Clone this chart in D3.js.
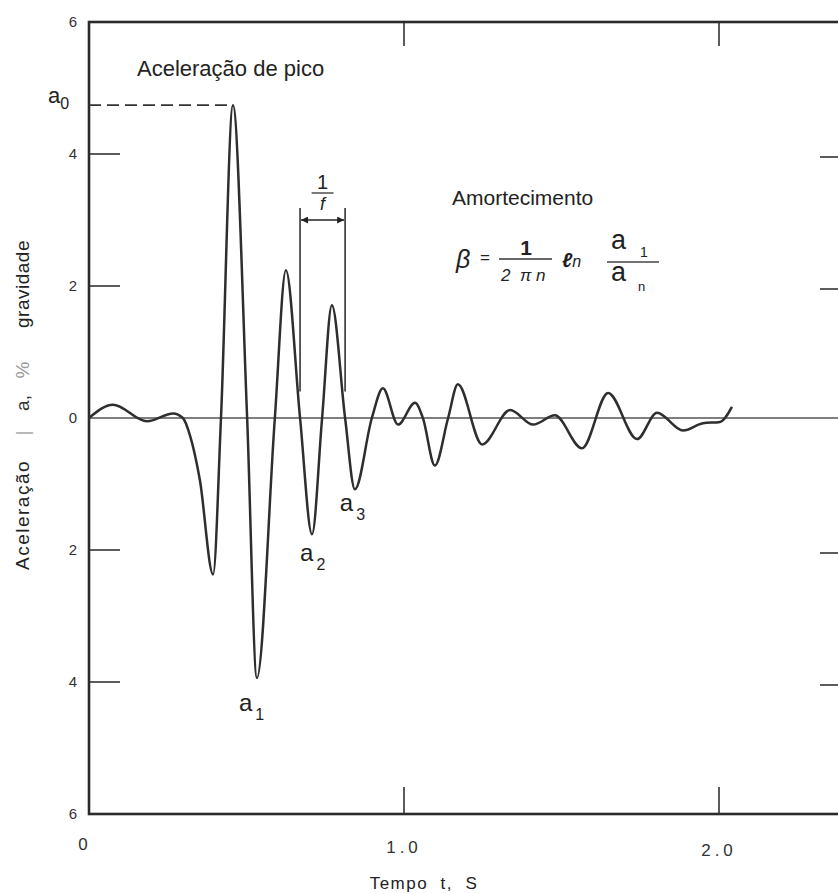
<!DOCTYPE html>
<html lang="pt">
<head>
    <meta charset="UTF-8">
    <title>Aceleração de pico</title>
    <style>
        body { margin: 0; background: #fff; }
        .frame { fill: none; stroke: #2b2b2b; stroke-width: 2.6; }
        .tick { stroke: #333; stroke-width: 1.6; }
        .zero { stroke: #555; stroke-width: 1.6; }
        .trace { fill: none; stroke: #2e2e2e; stroke-width: 2.5; stroke-linejoin: round; }
        text { font-family: "Liberation Sans", Arial, sans-serif; fill: #222; }
        .ticklabel { font-size: 15px; fill: #333; }
    </style>
</head>
<body>
    <div id="chart"></div>

    <script src="https://d3js.org/d3.v7.min.js"></script>
    <script>
        const width = 838;
        const height = 894;

        // registro de aceleração (tempo em s, aceleração em % g)
        const timeS = [0.000, 0.076, 0.184, 0.267, 0.298, 0.321, 0.352, 0.394, 0.419, 0.457,
                       0.502, 0.533, 0.590, 0.625, 0.670, 0.708, 0.740, 0.771, 0.813, 0.844,
                       0.898, 0.933, 0.981, 1.035, 1.060, 1.098, 1.140, 1.171, 1.248, 1.337,
                       1.410, 1.479, 1.565, 1.648, 1.740, 1.803, 1.886, 1.949, 2.003, 2.041];
        const accelG = [0, 0.20, -0.05, 0.07, 0, -0.27, -0.94, -2.37, 0, 4.74,
                        0, -3.94, 0, 2.24, 0, -1.76, 0, 1.71, 0, -1.08,
                        0, 0.45, -0.10, 0.23, 0, -0.72, 0, 0.51, -0.40, 0.12,
                        -0.10, 0.04, -0.46, 0.38, -0.32, 0.08, -0.19, -0.08, -0.06, 0.17];

        const yTicks = [-6, -4, -2, 0, 2, 4, 6];
        const xTicks = [0, 1, 2];
        const xTickLabels = ["0", "1.0", "2.0"];

        // pontos anotados
        const peakIndex = 9;          // a0
        const troughIdx = [11, 15, 19]; // a1, a2, a3
        const periodStart = 0.670, periodEnd = 0.813; // 1/f

        const svg = d3.select("#chart")
            .append("svg")
            .attr("width", width)
            .attr("height", height);

        const x = d3.scaleLinear().domain([0, 2]).range([89, 719]);
        const y = d3.scaleLinear().domain([-6, 6]).range([814, 22]);
        const plotL = x(0), plotR = 852, plotT = y(6), plotB = y(-6);

        svg.append("defs").append("marker")
            .attr("id", "head")
            .attr("viewBox", "0 0 10 10")
            .attr("refX", 10).attr("refY", 5)
            .attr("markerWidth", 10).attr("markerHeight", 7)
            .attr("markerUnits", "userSpaceOnUse")
            .attr("orient", "auto-start-reverse")
            .append("path")
            .attr("d", "M0,0 L10,5 L0,10 z")
            .attr("fill", "#222");

        // linha zero
        svg.append("line").attr("class", "zero")
            .attr("x1", plotL).attr("x2", plotR)
            .attr("y1", y(0)).attr("y2", y(0));

        // ticks
        yTicks.filter(v => v !== 0 && Math.abs(v) < 6).forEach(v => {
            svg.append("line").attr("class", "tick")
                .attr("x1", plotL).attr("x2", plotL + 31)
                .attr("y1", y(v)).attr("y2", y(v));
            svg.append("line").attr("class", "tick")
                .attr("x1", plotR - 32).attr("x2", plotR)
                .attr("y1", y(v) + 3).attr("y2", y(v) + 3);
        });
        xTicks.filter(t => t > 0).forEach(t => {
            svg.append("line").attr("class", "tick")
                .attr("x1", x(t)).attr("x2", x(t))
                .attr("y1", plotT).attr("y2", plotT + 24);
            svg.append("line").attr("class", "tick")
                .attr("x1", x(t)).attr("x2", x(t))
                .attr("y1", plotB).attr("y2", plotB - 27);
        });

        svg.append("rect").attr("class", "frame")
            .attr("x", plotL).attr("y", plotT)
            .attr("width", plotR - plotL).attr("height", plotB - plotT);

        // rótulos dos eixos
        svg.selectAll(".ylab")
            .data(yTicks)
            .enter()
            .append("text")
            .attr("class", "ticklabel")
            .attr("x", 73)
            .attr("y", d => y(d) + 5)
            .attr("text-anchor", "middle")
            .text(d => Math.abs(d));

        svg.selectAll(".xlab")
            .data(xTicks)
            .enter()
            .append("text")
            .attr("class", "ticklabel")
            .attr("x", (d, i) => x(d) + (i === 0 ? -6 : 0))
            .attr("y", (d, i) => 850 + i * 3)
            .attr("text-anchor", "middle")
            .style("font-size", "17px")
            .style("letter-spacing", (d, i) => i === 0 ? "0px" : "4px")
            .text((d, i) => xTickLabels[i]);

        svg.append("text")
            .attr("x", 424).attr("y", 889)
            .attr("text-anchor", "middle")
            .style("font-size", "17px")
            .style("letter-spacing", "1.5px")
            .attr("xml:space", "preserve")
            .text("Tempo  t,  S");

        const yLabel = [
            { t: "Aceleração", c: 515, color: "#222", ls: 1.5 },
            { t: "|", c: 433, color: "#aaa", ls: 0 },
            { t: "a,", c: 403, color: "#333", ls: 0 },
            { t: "%", c: 370, color: "#999", ls: 0 },
            { t: "gravidade", c: 284, color: "#222", ls: 0.5 }
        ];
        yLabel.forEach(d => {
            svg.append("text")
                .attr("transform", `translate(29,${d.c}) rotate(-90)`)
                .attr("text-anchor", "middle")
                .style("font-size", "19px")
                .style("letter-spacing", d.ls + "px")
                .style("fill", d.color)
                .text(d.t);
        });

        // traço
        const line = d3.line()
            .x(d => x(d[0]))
            .y(d => y(d[1]))
            .curve(d3.curveMonotoneX);

        svg.append("path")
            .datum(d3.zip(timeS, accelG))
            .attr("class", "trace")
            .attr("d", line);

        // aceleração de pico
        svg.append("line")
            .attr("x1", plotL).attr("x2", x(timeS[peakIndex]) - 4)
            .attr("y1", y(accelG[peakIndex])).attr("y2", y(accelG[peakIndex]))
            .attr("stroke", "#333").attr("stroke-width", 1.6)
            .attr("stroke-dasharray", "12,6");

        const a0 = svg.append("text").attr("x", 48).attr("y", y(accelG[peakIndex]) - 2)
            .style("font-size", "22px");
        a0.append("tspan").text("a");
        a0.append("tspan").attr("dy", 6).style("font-size", "16px").text("0");

        svg.append("text")
            .attr("x", 137).attr("y", 76)
            .style("font-size", "22px")
            .text("Aceleração de pico");

        // rótulos a1, a2, a3
        const troughLabels = [
            { dx: -18, dy: 33, sub: "1" },
            { dx: -12, dy: 27, sub: "2" },
            { dx: -15, dy: 22, sub: "3" }
        ];
        troughIdx.forEach((idx, i) => {
            const l = troughLabels[i];
            const g = svg.append("text")
                .attr("x", x(timeS[idx]) + l.dx)
                .attr("y", y(accelG[idx]) + l.dy)
                .style("font-size", "24px");
            g.append("tspan").text("a");
            g.append("tspan").attr("dx", 3).attr("dy", 9).style("font-size", "16px").text(l.sub);
        });

        // período 1/f
        [periodStart, periodEnd].forEach(t => {
            svg.append("line")
                .attr("x1", x(t)).attr("x2", x(t))
                .attr("y1", 208).attr("y2", y(0.4))
                .attr("stroke", "#333").attr("stroke-width", 1.6);
        });
        svg.append("line")
            .attr("x1", x(periodStart) + 1).attr("x2", x(periodEnd) - 1)
            .attr("y1", 220).attr("y2", 220)
            .attr("stroke", "#222").attr("stroke-width", 1.4)
            .attr("marker-start", "url(#head)")
            .attr("marker-end", "url(#head)");
        const midP = (x(periodStart) + x(periodEnd)) / 2;
        svg.append("text").attr("x", midP).attr("y", 189)
            .attr("text-anchor", "middle").style("font-size", "20px").text("1");
        svg.append("line").attr("x1", midP - 11).attr("x2", midP + 11)
            .attr("y1", 193).attr("y2", 193).attr("stroke", "#333").attr("stroke-width", 1.3);
        svg.append("text").attr("x", midP).attr("y", 210)
            .attr("text-anchor", "middle").style("font-size", "18px")
            .style("font-style", "italic").text("f");

        // amortecimento
        svg.append("text")
            .attr("x", 452).attr("y", 205)
            .style("font-size", "21px")
            .text("Amortecimento");

        svg.append("text").attr("x", 456).attr("y", 268)
            .style("font-size", "25px").style("font-style", "italic").text("β");
        svg.append("text").attr("x", 480).attr("y", 263)
            .style("font-size", "17px").text("=");
        svg.append("text").attr("x", 526).attr("y", 255)
            .attr("text-anchor", "middle").style("font-size", "21px")
            .style("font-weight", "bold").text("1");
        svg.append("line").attr("x1", 499).attr("x2", 552)
            .attr("y1", 259).attr("y2", 259).attr("stroke", "#333").attr("stroke-width", 1.3);
        svg.append("text").attr("x", 501).attr("y", 281)
            .style("font-size", "17px").attr("xml:space", "preserve")
            .style("font-style", "italic").text("2  π n");
        svg.append("text").attr("x", 562).attr("y", 267)
            .style("font-size", "20px").style("font-style", "italic")
            .style("font-weight", "bold").text("ℓ")
            .append("tspan").style("font-weight", "normal").style("font-size", "16px").text("n");

        const num = svg.append("text").attr("x", 611).attr("y", 249).style("font-size", "27px");
        num.append("tspan").text("a");
        num.append("tspan").attr("dx", 14).attr("dy", 8).style("font-size", "14px").text("1");
        svg.append("line").attr("x1", 607).attr("x2", 659)
            .attr("y1", 262).attr("y2", 262).attr("stroke", "#444").attr("stroke-width", 1.3);
        const den = svg.append("text").attr("x", 611).attr("y", 281).style("font-size", "27px");
        den.append("tspan").text("a");
        den.append("tspan").attr("dx", 12).attr("dy", 10).style("font-size", "13px").text("n");
    </script>
</body>
</html>
